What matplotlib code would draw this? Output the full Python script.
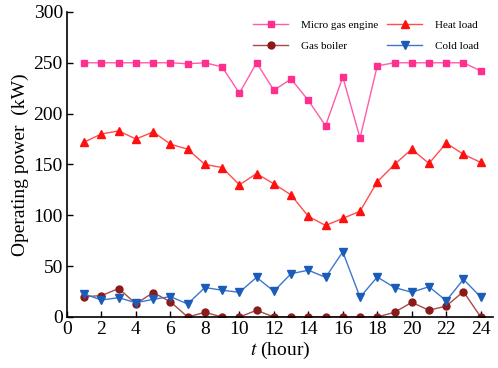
import matplotlib
matplotlib.use("Agg")
import matplotlib.pyplot as plt

hours = list(range(1, 25))
micro_gas = [250, 250, 250, 250, 250, 250, 249, 250, 246, 220, 250, 223, 234, 213, 188, 236,
             176, 247, 250, 250, 250, 250, 250, 242]
heat_load = [172, 180, 183, 175, 182, 170, 165, 150, 147, 130, 141, 131, 120, 99, 90, 97,
             104, 133, 150, 165, 151, 171, 160, 152]
gas_boiler = [20, 21, 28, 13, 24, 15, 0, 4.6, 0, 0, 6.6, 0, 0, 0, 0, 0,
              0, 0, 4.6, 14.4, 6.6, 10.8, 25, 0]
cold_load = [22.6, 16.7, 19, 14, 17.4, 20, 12.8, 29, 26.3, 24.3, 39, 25.3, 42.6, 46, 39, 64,
             19.4, 39.3, 29, 24.3, 29.8, 16, 37, 19.7]
xticks = list(range(0, 25, 2))
yticks = [0, 50, 100, 150, 200, 250, 300]

plt.rcParams['font.family'] = ['Liberation Serif', 'DejaVu Serif']
plt.rcParams['mathtext.fontset'] = 'stix'
fig = plt.figure(figsize=(4.98, 3.68), dpi=100)
ax = fig.add_axes([0.1345, 0.1386, 0.855, 0.829])

l1, = ax.plot(hours, micro_gas, color='#FF5CA8', marker='s', markersize=5,
              markerfacecolor='#FF2F8E', markeredgecolor='#FF2F8E', lw=1.0, label='Micro gas engine')
l2, = ax.plot(hours, gas_boiler, color='#A84A4A', marker='o', markersize=5,
              markerfacecolor='#8B1A1A', markeredgecolor='#8B1A1A', lw=1.0, label='Gas boiler')
l3, = ax.plot(hours, heat_load, color='#FF4D4D', marker='^', markersize=6,
              markerfacecolor='#FF1010', markeredgecolor='#FF1010', lw=1.0, label='Heat load')
l4, = ax.plot(hours, cold_load, color='#3A78D0', marker='v', markersize=6,
              markerfacecolor='#1A5CB8', markeredgecolor='#1A5CB8', lw=1.0, label='Cold load')

ax.set_xlim(0, 24.7)
ax.set_ylim(0, 300)
ax.set_xticks(xticks)
ax.set_yticks(yticks)
ax.tick_params(direction='in', labelsize=14, length=4, width=1, pad=3)
for s in ['top', 'right']:
    ax.spines[s].set_visible(False)
ax.spines['left'].set_linewidth(1.2)
ax.spines['bottom'].set_linewidth(1.2)

ax.set_xlabel('$t$ (hour)', fontsize=14, labelpad=1)
ax.set_ylabel('Operating power  (kW)', fontsize=14, labelpad=3)

leg = ax.legend(handles=[l1, l2, l3, l4], ncol=2, loc='upper right',
                bbox_to_anchor=(0.99, 1.005), frameon=False, fontsize=8,
                handlelength=3.2, columnspacing=0.8, labelspacing=0.95, handletextpad=1.1)

fig.savefig('out.png', dpi=100)
